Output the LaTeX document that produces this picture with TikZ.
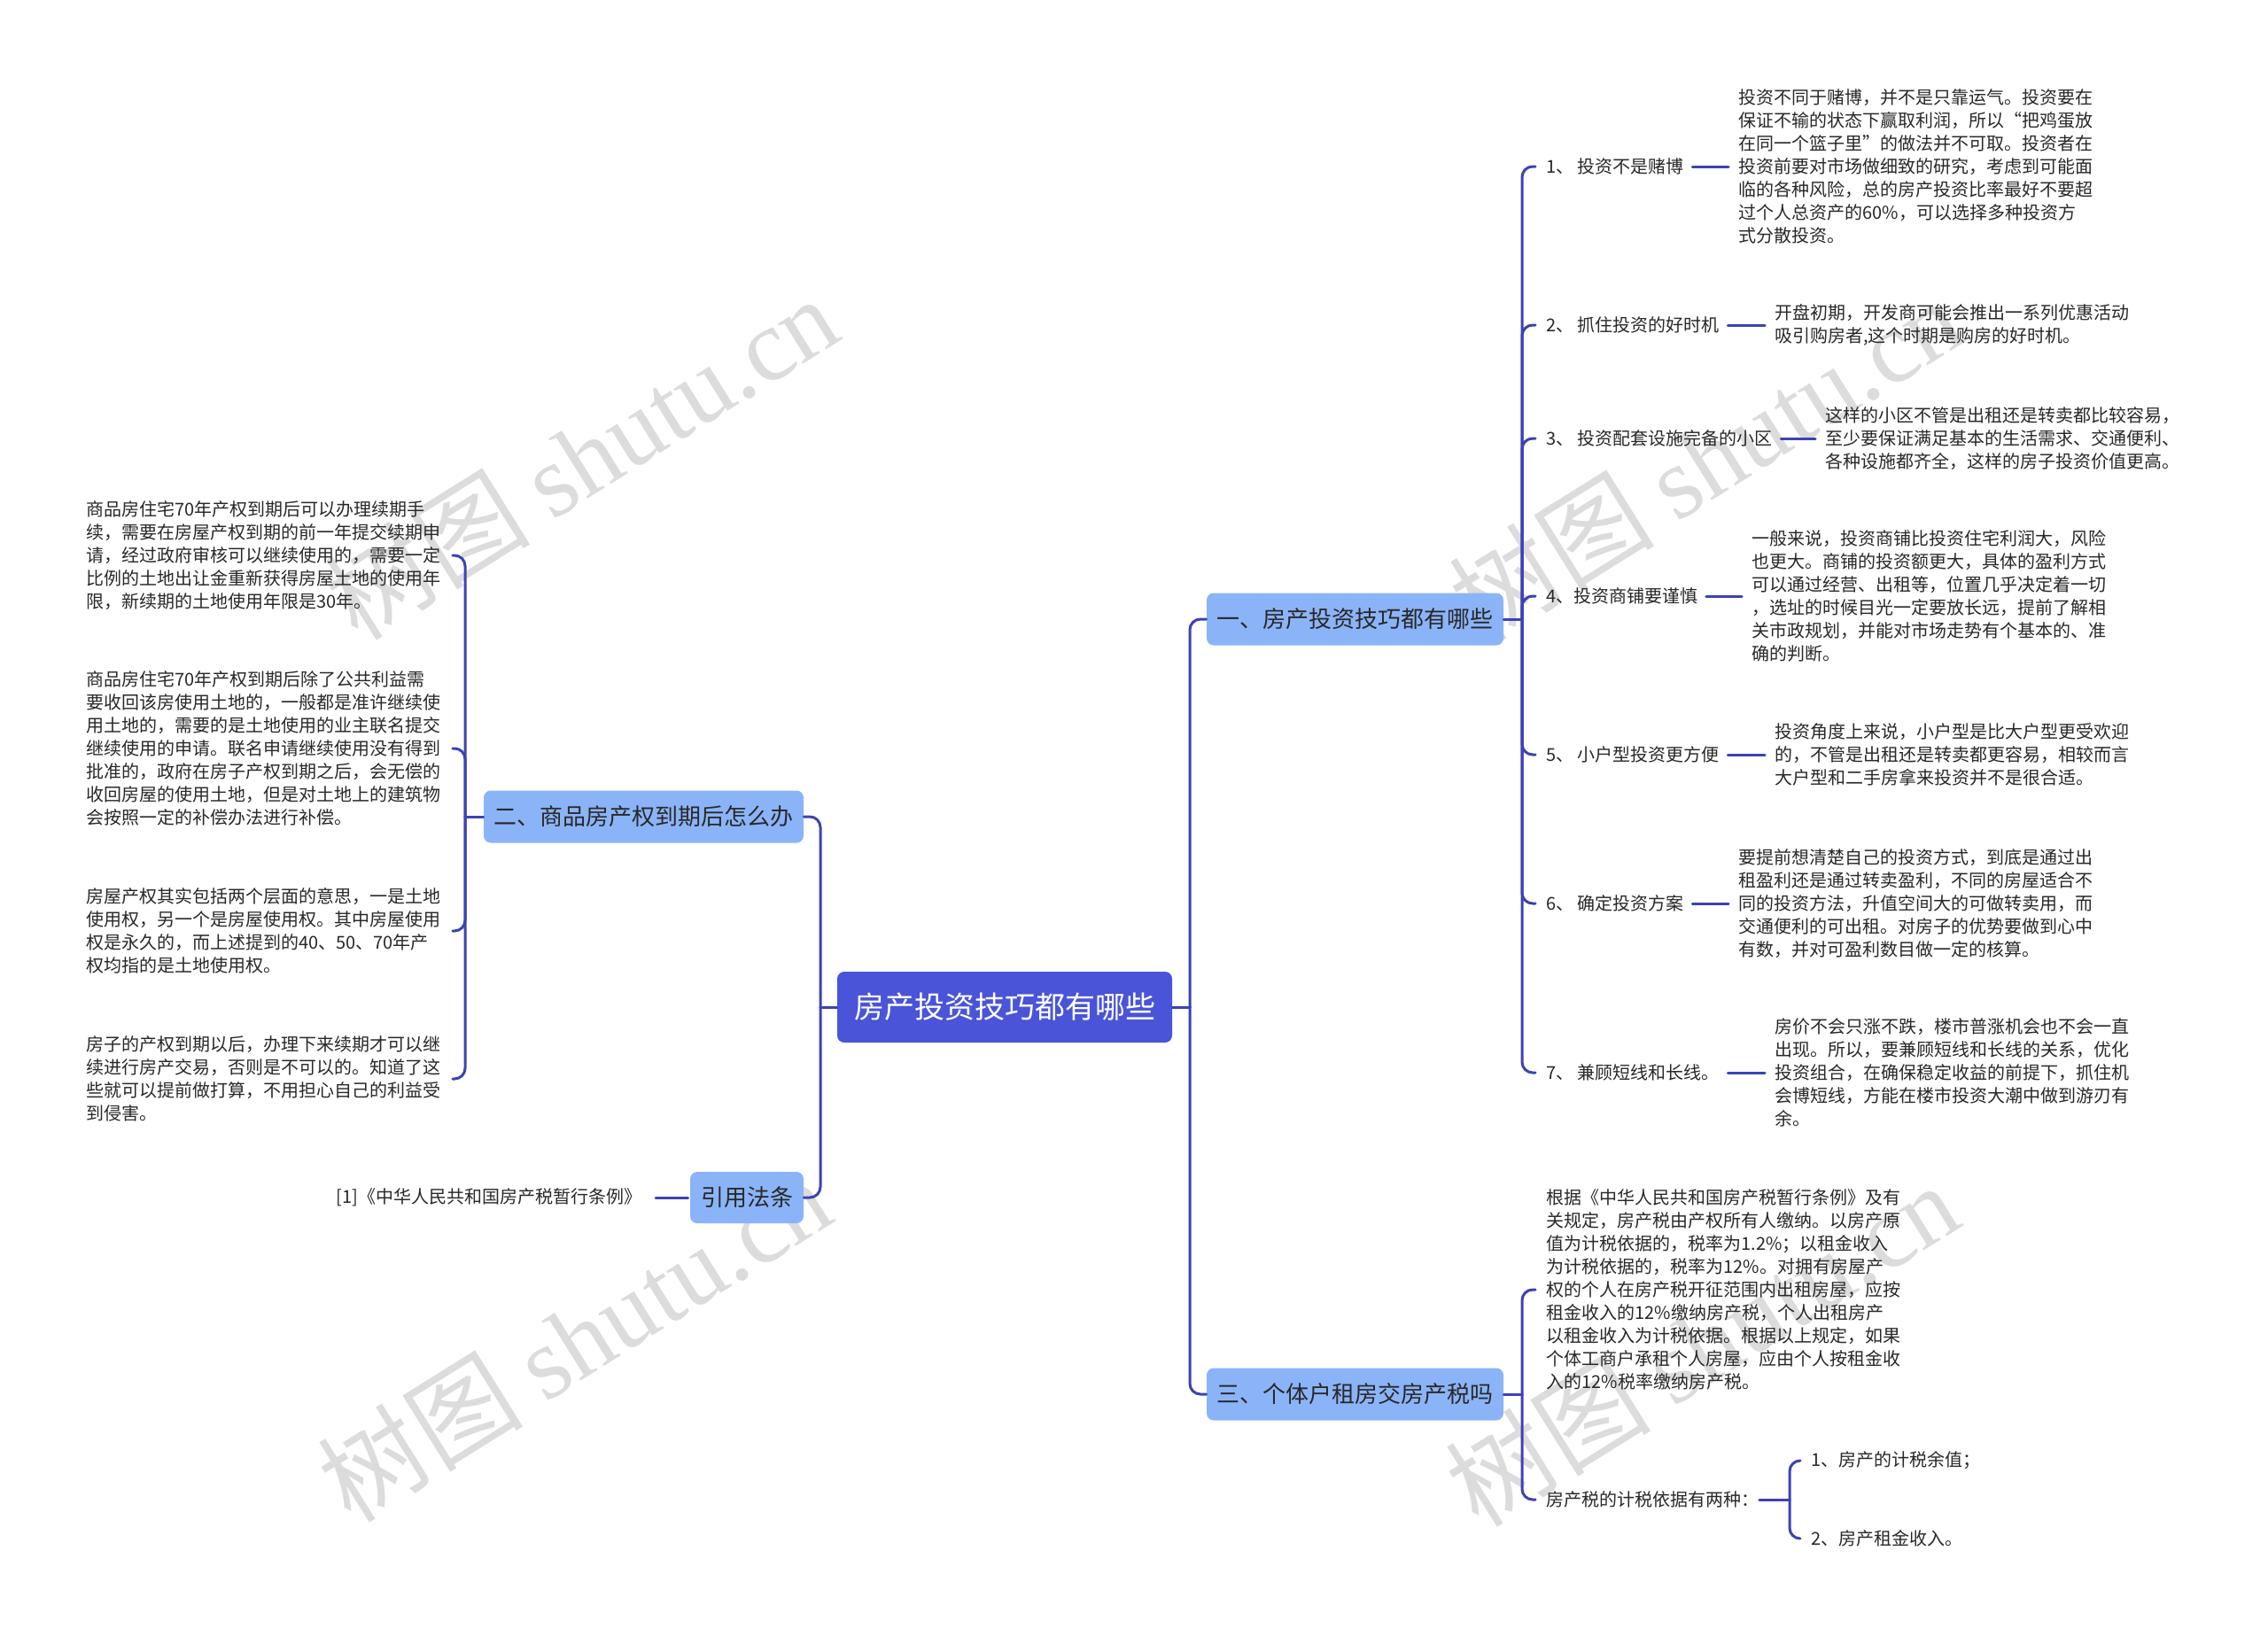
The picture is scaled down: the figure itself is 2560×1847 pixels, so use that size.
\documentclass[tikz,border=0pt]{standalone}
\usepackage{fontspec}
\setmainfont{Noto Sans CJK SC}
\newfontfamily\wmlatin{Liberation Serif}
\definecolor{lineblue}{RGB}{60,66,180}
\definecolor{rootfill}{RGB}{74,84,216}
\definecolor{lonefill}{RGB}{139,180,248}
\definecolor{txtgray}{RGB}{40,40,40}
\definecolor{wmgray}{RGB}{220,220,220}
\begin{document}
\begin{tikzpicture}[x=0.5pt,y=-0.5pt,
  conn/.style={draw=lineblue, line width=1.5pt, line cap=round},
  rconn/.style={conn, rounded corners=6pt},
  rootbox/.style={fill=rootfill, rounded corners=4pt, text=white, font=\fontsize{17pt}{20pt}\selectfont, minimum width=189pt, minimum height=40pt, inner sep=0pt},
  lonebox/.style={fill=lonefill, rounded corners=4pt, text=txtgray, font=\fontsize{13pt}{16pt}\selectfont, minimum height=29.5pt, inner sep=0pt},
  lbl/.style={anchor=west, inner sep=0pt, text=txtgray, font=\fontsize{10pt}{13pt}\selectfont},
  blk/.style={anchor=west, inner sep=0pt, text=txtgray, align=left, font=\fontsize{10pt}{13pt}\selectfont},
  wm/.style={rotate=32, text=wmgray, font=\fontsize{58pt}{60pt}\selectfont, inner sep=0pt}
]
\fill[white] (0,0) rectangle (2560,1847);
\useasboundingbox (0,0) rectangle (2560,1847);

% watermarks
\node[wm] (w1) at (656,516) {树图 {\wmlatin shutu.cn}};
\node[wm] (w2) at (1925,518) {树图 {\wmlatin shutu.cn}};
\node[wm] (w3) at (648,1512) {树图 {\wmlatin shutu.cn}};
\node[wm] (w4) at (1921,1517) {树图 {\wmlatin shutu.cn}};

% main nodes
\node[rootbox] (root) at (1134,1137) {房产投资技巧都有哪些};
\node[lonebox, minimum width=167.5pt] (n1) at (1529.5,699) {一、房产投资技巧都有哪些};
\node[lonebox, minimum width=180.5pt] (n2) at (726.5,922) {二、商品房产权到期后怎么办};
\node[lonebox, minimum width=167.5pt] (n3) at (1529.5,1574) {三、个体户租房交房产税吗};
\node[lonebox, minimum width=64pt, minimum height=29pt] (n4) at (843,1352) {引用法条};

% hubs
\coordinate (hR) at (1343,1137);
\coordinate (hL) at (926,1137);
\coordinate (h1) at (1718,699);
\coordinate (h3) at (1718,1574);
\coordinate (h2) at (525,922);
\coordinate (h4) at (2020,1693);

% branch 1 labels and texts
\node[lbl] (a1) at (1745,188) {1、 投资不是赌博};
\node[blk] (t1) at (1962,188) {投资不同于赌博，并不是只靠运气。投资要在\\
保证不输的状态下赢取利润，所以“把鸡蛋放\\
在同一个篮子里”的做法并不可取。投资者在\\
投资前要对市场做细致的研究，考虑到可能面\\
临的各种风险，总的房产投资比率最好不要超\\
过个人总资产的60\%，可以选择多种投资方\\
式分散投资。};
\node[lbl] (a2) at (1745,367) {2、 抓住投资的好时机};
\node[blk] (t2) at (2003,367) {开盘初期，开发商可能会推出一系列优惠活动\\
吸引购房者,这个时期是购房的好时机。};
\node[lbl] (a3) at (1745,495) {3、 投资配套设施完备的小区};
\node[blk] (t3) at (2060,495) {这样的小区不管是出租还是转卖都比较容易，\\
至少要保证满足基本的生活需求、交通便利、\\
各种设施都齐全，这样的房子投资价值更高。};
\node[lbl] (a4) at (1745,673) {4、投资商铺要谨慎};
\node[blk] (t4) at (1977,673) {一般来说，投资商铺比投资住宅利润大，风险\\
也更大。商铺的投资额更大，具体的盈利方式\\
可以通过经营、出租等，位置几乎决定着一切\\
，选址的时候目光一定要放长远，提前了解相\\
关市政规划，并能对市场走势有个基本的、准\\
确的判断。};
\node[lbl] (a5) at (1745,852) {5、 小户型投资更方便};
\node[blk] (t5) at (2003,852) {投资角度上来说，小户型是比大户型更受欢迎\\
的，不管是出租还是转卖都更容易，相较而言\\
大户型和二手房拿来投资并不是很合适。};
\node[lbl] (a6) at (1745,1020) {6、 确定投资方案};
\node[blk] (t6) at (1962,1020) {要提前想清楚自己的投资方式，到底是通过出\\
租盈利还是通过转卖盈利，不同的房屋适合不\\
同的投资方法，升值空间大的可做转卖用，而\\
交通便利的可出租。对房子的优势要做到心中\\
有数，并对可盈利数目做一定的核算。};
\node[lbl] (a7) at (1745,1211) {7、 兼顾短线和长线。};
\node[blk] (t7) at (2003,1211) {房价不会只涨不跌，楼市普涨机会也不会一直\\
出现。所以，要兼顾短线和长线的关系，优化\\
投资组合，在确保稳定收益的前提下，抓住机\\
会博短线，方能在楼市投资大潮中做到游刃有\\
余。};

% branch 3
\node[blk] (tax) at (1745,1456) {根据《中华人民共和国房产税暂行条例》及有\\
关规定，房产税由产权所有人缴纳。以房产原\\
值为计税依据的，税率为1.2\%；以租金收入\\
为计税依据的，税率为12\%。对拥有房屋产\\
权的个人在房产税开征范围内出租房屋，应按\\
租金收入的12\%缴纳房产税，个人出租房产\\
以租金收入为计税依据。根据以上规定，如果\\
个体工商户承租个人房屋，应由个人按租金收\\
入的12\%税率缴纳房产税。};
\node[lbl] (taxlab) at (1745,1693) {房产税的计税依据有两种：};
\node[lbl] (s1) at (2044,1649) {1、房产的计税余值；};
\node[lbl] (s2) at (2044,1737) {2、房产租金收入。};

% branch 2
\node[blk] (L1) at (97,627) {商品房住宅70年产权到期后可以办理续期手\\
续，需要在房屋产权到期的前一年提交续期申\\
请，经过政府审核可以继续使用的，需要一定\\
比例的土地出让金重新获得房屋土地的使用年\\
限，新续期的土地使用年限是30年。};
\node[blk] (L2) at (97,845) {商品房住宅70年产权到期后除了公共利益需\\
要收回该房使用土地的，一般都是准许继续使\\
用土地的，需要的是土地使用的业主联名提交\\
继续使用的申请。联名申请继续使用没有得到\\
批准的，政府在房子产权到期之后，会无偿的\\
收回房屋的使用土地，但是对土地上的建筑物\\
会按照一定的补偿办法进行补偿。};
\node[blk] (L3) at (97,1051) {房屋产权其实包括两个层面的意思，一是土地\\
使用权，另一个是房屋使用权。其中房屋使用\\
权是永久的，而上述提到的40、50、70年产\\
权均指的是土地使用权。};
\node[blk] (L4) at (97,1218) {房子的产权到期以后，办理下来续期才可以继\\
续进行房产交易，否则是不可以的。知道了这\\
些就可以提前做打算，不用担心自己的利益受\\
到侵害。};

% citation
\node[lbl, anchor=east] (cite) at (725,1352) {[1]《中华人民共和国房产税暂行条例》};

% connectors
\draw[conn] (root.east) -- (hR);
\draw[rconn] (hR) |- (n1.west);
\draw[rconn] (hR) |- (n3.west);
\draw[conn] (root.west) -- (hL);
\draw[rconn] (hL) |- (n2.east);
\draw[rconn] (hL) |- (n4.east);

\draw[conn] (n1.east) -- (h1);
\foreach \k in {1,...,7}{
  \draw[rconn, shorten >=6pt] (h1) |- (a\k.west);
  \draw[conn, shorten <=4.5pt, shorten >=5.5pt] (a\k.east) -- (t\k.west);
}

\draw[conn] (n3.east) -- (h3);
\draw[rconn, shorten >=6pt] (h3) |- (tax.west);
\draw[rconn, shorten >=6pt] (h3) |- (taxlab.west);
\draw[conn] (taxlab.east) -- (h4);
\draw[rconn, shorten >=6pt] (h4) |- (s1.west);
\draw[rconn, shorten >=6pt] (h4) |- (s2.west);

\draw[conn] (n2.west) -- (h2);
\foreach \k in {1,...,4}{
  \draw[rconn, shorten >=6.5pt] (h2) |- (L\k.east);
}

\draw[conn, shorten <=7.5pt, shorten >=1pt] (cite.east) -- (n4.west);
\end{tikzpicture}
\end{document}
